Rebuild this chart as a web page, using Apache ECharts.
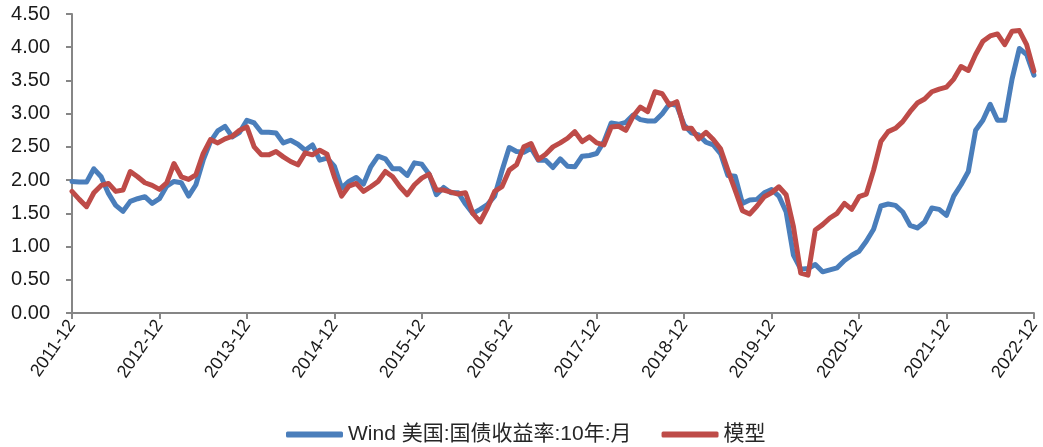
<!DOCTYPE html>
<html>
<head>
<meta charset="utf-8">
<script src="https://cdn.jsdelivr.net/npm/echarts@6/dist/echarts.min.js"></script>
<style>
  html, body { margin: 0; padding: 0; background: #fff; }
  #chart { width: 1043px; height: 447px; }
</style>
</head>
<body>
<div id="chart"></div>
<script>
// months 2011-12 .. 2022-12
const months = [];
for (let y = 2011; y <= 2022; y++) {
  for (let m = 1; m <= 12; m++) {
    if (y === 2011 && m < 12) continue;
    months.push(y + '-' + (m < 10 ? '0' + m : m));
  }
}

const yieldNames = ['Wind 美国:国债收益率:10年:月', '模型'];

const wind10y = [
  1.98,
  1.97, 1.97, 2.17, 2.05, 1.80, 1.62, 1.53, 1.68, 1.72, 1.75, 1.65, 1.72,
  1.91, 1.98, 1.96, 1.76, 1.93, 2.30, 2.58, 2.74, 2.81, 2.65, 2.72, 2.90,
  2.86, 2.72, 2.72, 2.71, 2.56, 2.60, 2.54, 2.45, 2.53, 2.30, 2.33, 2.21,
  1.88, 1.98, 2.04, 1.94, 2.20, 2.36, 2.32, 2.17, 2.17, 2.07, 2.26, 2.24,
  2.09, 1.78, 1.89, 1.81, 1.81, 1.64, 1.50, 1.56, 1.63, 1.76, 2.14, 2.49,
  2.43, 2.42, 2.48, 2.30, 2.30, 2.19, 2.32, 2.21, 2.20, 2.36, 2.37, 2.40,
  2.58, 2.86, 2.84, 2.87, 2.98, 2.91, 2.89, 2.89, 3.00, 3.15, 3.12, 2.83,
  2.71, 2.68, 2.57, 2.53, 2.40, 2.07, 2.06, 1.65, 1.70, 1.71, 1.81, 1.86,
  1.76, 1.52, 0.87, 0.66, 0.67, 0.73, 0.62, 0.65, 0.68, 0.79, 0.87, 0.93,
  1.08, 1.26, 1.61, 1.64, 1.62, 1.52, 1.32, 1.28, 1.37, 1.58, 1.56, 1.47,
  1.76, 1.93, 2.13, 2.75, 2.90, 3.14, 2.90, 2.90, 3.52, 3.98, 3.89, 3.58
];

const modelYield = [
  1.83,
  1.71, 1.60, 1.81, 1.92, 1.95, 1.83, 1.85, 2.13, 2.05, 1.96, 1.92, 1.86,
  1.96, 2.25, 2.05, 2.01, 2.08, 2.40, 2.61, 2.56, 2.62, 2.66, 2.75, 2.80,
  2.50, 2.38, 2.38, 2.43, 2.35, 2.28, 2.23, 2.41, 2.38, 2.45, 2.39, 2.05,
  1.76, 1.91, 1.95, 1.83, 1.90, 1.98, 2.13, 2.05, 1.90, 1.78, 1.93, 2.03,
  2.09, 1.85, 1.85, 1.82, 1.79, 1.81, 1.50, 1.37, 1.58, 1.83, 1.90, 2.15,
  2.23, 2.50, 2.55, 2.31, 2.39, 2.50, 2.56, 2.63, 2.73, 2.58, 2.65, 2.56,
  2.53, 2.80, 2.81, 2.75, 2.96, 3.10, 3.03, 3.33, 3.30, 3.13, 3.18, 2.78,
  2.78, 2.62, 2.72, 2.61, 2.47, 2.15, 1.85, 1.54, 1.49, 1.61, 1.75, 1.81,
  1.90, 1.78, 1.30, 0.60, 0.57, 1.25, 1.33, 1.43, 1.50, 1.65, 1.56, 1.75,
  1.79, 2.15, 2.58, 2.73, 2.78, 2.88, 3.03, 3.16, 3.22, 3.33, 3.37, 3.40,
  3.52, 3.71, 3.65, 3.89, 4.09, 4.17, 4.20, 4.04, 4.24, 4.25, 4.04, 3.64
];

const axisGray = '#868686';
const textFont = '"Liberation Sans", "Noto Sans CJK SC", sans-serif';

const chart = echarts.init(document.getElementById('chart'));
chart.setOption({
  animation: false,
  backgroundColor: '#fff',
  textStyle: { fontFamily: textFont },
  grid: {
    left: 72,
    right: 3,
    top: 14,
    bottom: 134,
    containLabel: false
  },
  legend: {
    top: 419,
    left: 281,
    itemWidth: 57,
    itemHeight: 6,
    itemGap: 30,
    icon: 'roundRect',
    textStyle: {
      fontSize: 21,
      color: '#262626',
      fontFamily: textFont
    },
    data: yieldNames
  },
  xAxis: {
    type: 'category',
    boundaryGap: false,
    data: months,
    axisLine: { lineStyle: { color: axisGray, width: 2 } },
    axisTick: {
      interval: 11,
      length: 6,
      lineStyle: { color: axisGray, width: 2 }
    },
    axisLabel: {
      interval: 11,
      rotate: 55,
      margin: 9,
      fontSize: 18,
      color: '#1a1a1a',
      fontFamily: textFont
    }
  },
  yAxis: {
    type: 'value',
    min: 0,
    max: 4.5,
    interval: 0.5,
    axisLine: { show: true, lineStyle: { color: axisGray, width: 2 } },
    axisTick: {
      show: true,
      length: 6,
      lineStyle: { color: axisGray, width: 2 }
    },
    splitLine: { show: false },
    axisLabel: {
      margin: 22,
      fontSize: 20,
      color: '#1a1a1a',
      fontFamily: textFont,
      formatter: function (v) { return v.toFixed(2); }
    }
  },
  series: [
    {
      name: yieldNames[0],
      type: 'line',
      data: wind10y,
      showSymbol: false,
      lineStyle: { color: '#4A7EBB', width: 5, cap: 'round', join: 'round' },
      itemStyle: { color: '#4A7EBB' }
    },
    {
      name: yieldNames[1],
      type: 'line',
      data: modelYield,
      showSymbol: false,
      lineStyle: { color: '#BE4B48', width: 5, cap: 'round', join: 'round' },
      itemStyle: { color: '#BE4B48' }
    }
  ]
});
window.addEventListener('resize', function () {
  chart.resize();
});
</script>
</body>
</html>
